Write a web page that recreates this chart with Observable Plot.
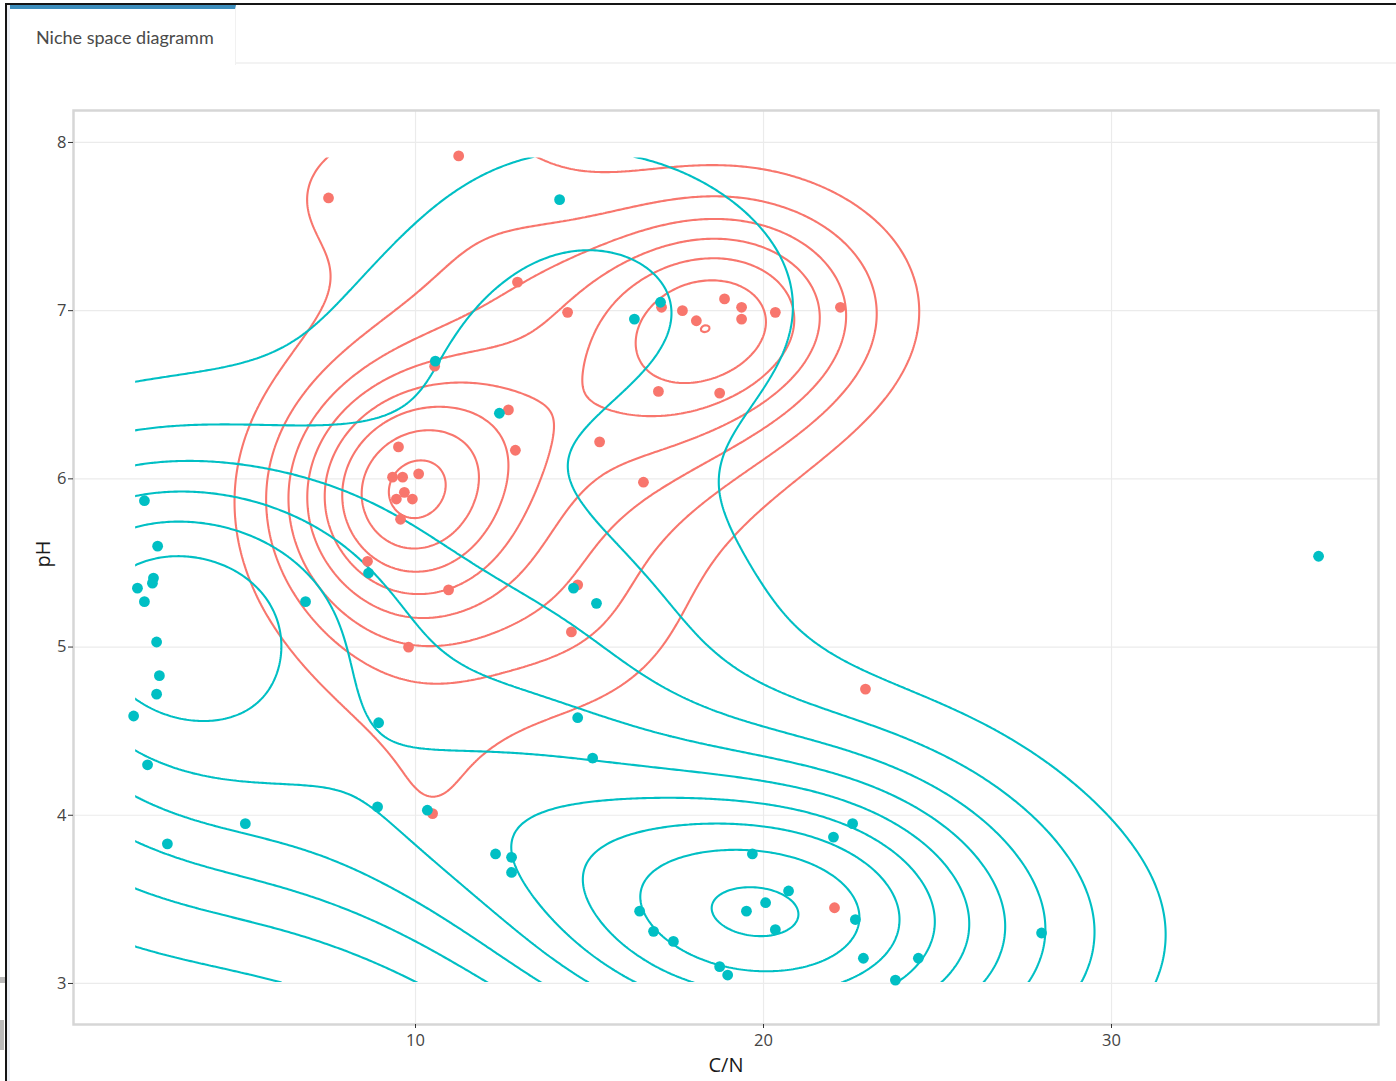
<!DOCTYPE html>
<html>
<head>
<meta charset="utf-8">
<script src="https://cdn.jsdelivr.net/npm/d3@7"></script>
<script src="https://cdn.jsdelivr.net/npm/@observablehq/plot@0.6"></script>
<style>
html, body { margin: 0; padding: 0; background: #fff; width: 1396px; height: 1081px; overflow: hidden; }
#outer { position: absolute; left: 5px; top: 3px; width: 1400px; height: 1090px;
  border-top: 2px solid #151515; border-left: 2px solid #151515; background: #edf0f5; }
#box { position: absolute; left: 3px; top: 0; right: 0; bottom: 0; background: #fff; }
#hdrline { position: absolute; left: 0; right: 0; top: 57px; height: 0; border-bottom: 2px solid #f3f3f3; }
#tab { position: absolute; left: 0; top: 0; width: 225px; height: 56px; background: #fff;
  border-top: 4px solid #3c8dbc; border-right: 1px solid #f1f1f1; box-sizing: content-box; }
#tab span { position: absolute; left: 26px; top: 17px; font-family: Lato, "Open Sans", sans-serif;
  font-size: 18px; color: #4a4a4a; white-space: nowrap; }
#chart { position: absolute; left: 0; top: 90px; }
.art { position: absolute; background: #b9b9b9; }
</style>
</head>
<body>
<div class="art" style="left:0;top:977px;width:5px;height:6px"></div>
<div class="art" style="left:0;top:1020px;width:4px;height:30px"></div>
<div id="outer"><div id="box"><div id="hdrline"></div><div id="tab"><span>Niche space diagramm</span></div></div></div>
<div id="chart"></div>
<script>
// ---- data ----
const groups = ["group 1", "group 2"];
const groupColors = ["#F8766D", "#00BFC4"];

const redCN = [7.50, 11.24, 12.93, 14.37, 17.07, 17.67, 18.07, 18.88, 19.37, 19.37, 20.34, 22.21, 16.98, 18.74, 10.55, 12.67, 12.87, 15.29, 16.55, 9.51, 9.34, 9.63, 10.09, 9.68, 9.45, 9.91, 9.57, 8.62, 10.95, 14.66, 14.48, 9.80, 22.93, 10.49, 22.04];
const redPH = [7.67, 7.92, 7.17, 6.99, 7.02, 7.00, 6.94, 7.07, 7.02, 6.95, 6.99, 7.02, 6.52, 6.51, 6.67, 6.41, 6.17, 6.22, 5.98, 6.19, 6.01, 6.01, 6.03, 5.92, 5.88, 5.88, 5.76, 5.51, 5.34, 5.37, 5.09, 5.00, 4.75, 4.01, 3.45];

const tealCN = [2.21, 2.59, 2.47, 2.44, 2.01, 2.21, 2.56, 2.64, 2.56, 1.90, 2.30, 2.87, 5.11, 6.84, 8.65, 8.94, 8.91, 10.34, 10.57, 12.41, 14.14, 16.29, 17.04, 14.54, 15.20, 14.66, 15.09, 12.30, 12.76, 12.76, 19.68, 22.56, 22.01, 20.72, 20.06, 19.51, 22.64, 16.44, 16.84, 17.41, 20.34, 18.74, 18.97, 22.87, 24.45, 23.79, 27.99, 35.95];
const tealPH = [5.87, 5.60, 5.41, 5.38, 5.35, 5.27, 5.03, 4.83, 4.72, 4.59, 4.30, 3.83, 3.95, 5.27, 5.44, 4.55, 4.05, 4.03, 6.70, 6.39, 7.66, 6.95, 7.05, 5.35, 5.26, 4.58, 4.34, 3.77, 3.75, 3.66, 3.77, 3.95, 3.87, 3.55, 3.48, 3.43, 3.38, 3.43, 3.31, 3.25, 3.32, 3.10, 3.05, 3.15, 3.15, 3.02, 3.30, 5.54];

const xTicks = [10, 20, 30];
const yTicks = [3, 4, 5, 6, 7, 8];

// ---- table ----
const rows = [
  ...redCN.map((v, i) => ({cn: v, ph: redPH[i], group: groups[0]})),
  ...tealCN.map((v, i) => ({cn: v, ph: tealPH[i], group: groups[1]}))
];

// ---- 2D kernel density (as MASS::kde2d with bandwidth.nrd) ----
function bwNrd(v) {
  const s = d3.deviation(v);
  const sorted = v.slice().sort(d3.ascending);
  const iqr = d3.quantileSorted(sorted, 0.75) - d3.quantileSorted(sorted, 0.25);
  return 4 * 1.06 * Math.min(s, iqr / 1.34) * Math.pow(v.length, -0.2);
}
function kde(xs, ys) {
  const hx = bwNrd(xs) / 4, hy = bwNrd(ys) / 4, n = xs.length;
  const c = 1 / (2 * Math.PI * n * hx * hy);
  return (x, y) => {
    let s = 0;
    for (let i = 0; i < n; i++) {
      const u = (x - xs[i]) / hx, w = (y - ys[i]) / hy;
      s += Math.exp(-0.5 * (u * u + w * w));
    }
    return s * c;
  };
}
const allX = rows.map(d => d.cn), allY = rows.map(d => d.ph);
const [X0, X1] = d3.extent(allX), [Y0, Y1] = d3.extent(allY);
function gridMax(f) {
  let m = 0;
  for (let i = 0; i < 100; i++) for (let j = 0; j < 100; j++) {
    m = Math.max(m, f(X0 + (X1 - X0) * i / 99, Y0 + (Y1 - Y0) * j / 99));
  }
  return m;
}
const densRed = kde(redCN, redPH), densTeal = kde(tealCN, tealPH);
const thrRed = d3.ticks(0, gridMax(densRed), 10).filter(t => t > 0);
const thrTeal = d3.ticks(0, gridMax(densTeal), 10).filter(t => t > 0);

const contourOpts = {x1: X0, x2: X1, y1: Y0 - 0.02, y2: Y1, fill: "none", strokeWidth: 2.1, pixelSize: 2};

const chart = Plot.plot({
  width: 1396, height: 991,
  marginLeft: 73, marginRight: 18, marginTop: 20, marginBottom: 57,
  x: {domain: [0.172, 37.672], label: null},
  y: {domain: [2.756, 8.19], label: null},
  style: {fontFamily: "'Open Sans', sans-serif", fontSize: "16.5px", color: "#444", background: "transparent"},
  marks: [
    Plot.gridX(xTicks, {stroke: "#ebebeb", strokeOpacity: 1, strokeWidth: 1.2}),
    Plot.gridY(yTicks, {stroke: "#ebebeb", strokeOpacity: 1, strokeWidth: 1.2}),
    Plot.frame({stroke: "#d6d6d6", strokeWidth: 2.5}),
    Plot.contour(null, {...contourOpts, value: densRed, thresholds: thrRed, stroke: groupColors[0]}),
    Plot.contour(null, {...contourOpts, value: densTeal, thresholds: thrTeal, stroke: groupColors[1]}),
    Plot.dot(rows.filter(d => d.group === groups[0]), {x: "cn", y: "ph", r: 5.4, fill: groupColors[0]}),
    Plot.dot(rows.filter(d => d.group === groups[1]), {x: "cn", y: "ph", r: 5.4, fill: groupColors[1]}),
    Plot.axisX(xTicks, {tickSize: 4, tickPadding: 6, label: null, stroke: "#333", tickFormat: d => String(d)}),
    Plot.axisY(yTicks, {tickSize: 5, tickPadding: 2, label: null, stroke: "#333", tickFormat: d => String(d)}),
    Plot.text(["pH"], {text: d => d, frameAnchor: "left", dx: -30, rotate: -90, fontSize: 20, fill: "#1a1a1a"}),
    Plot.text(["C/N"], {text: d => d, frameAnchor: "bottom", dy: 47, fontSize: 20, fill: "#1a1a1a"})
  ]
});

// clip density contours to the data range (like ggplot's kde grid)
const sx = chart.scale("x"), sy = chart.scale("y");
const ns = "http://www.w3.org/2000/svg";
const defs = document.createElementNS(ns, "defs");
const cp = document.createElementNS(ns, "clipPath");
cp.setAttribute("id", "kde-clip");
const rect = document.createElementNS(ns, "rect");
const ax = sx.apply(X0) + 1.5, bx = sx.apply(X1) - 1.5, ay = sy.apply(Y1) + 1.5, by = sy.apply(Y0 - 0.02) - 1.5;
rect.setAttribute("x", ax); rect.setAttribute("y", ay);
rect.setAttribute("width", bx - ax); rect.setAttribute("height", by - ay);
cp.appendChild(rect); defs.appendChild(cp);
chart.insertBefore(defs, chart.firstChild);
chart.querySelectorAll('g[aria-label="contour"]').forEach(g => g.setAttribute("clip-path", "url(#kde-clip)"));

document.getElementById("chart").appendChild(chart);
</script>
</body>
</html>
